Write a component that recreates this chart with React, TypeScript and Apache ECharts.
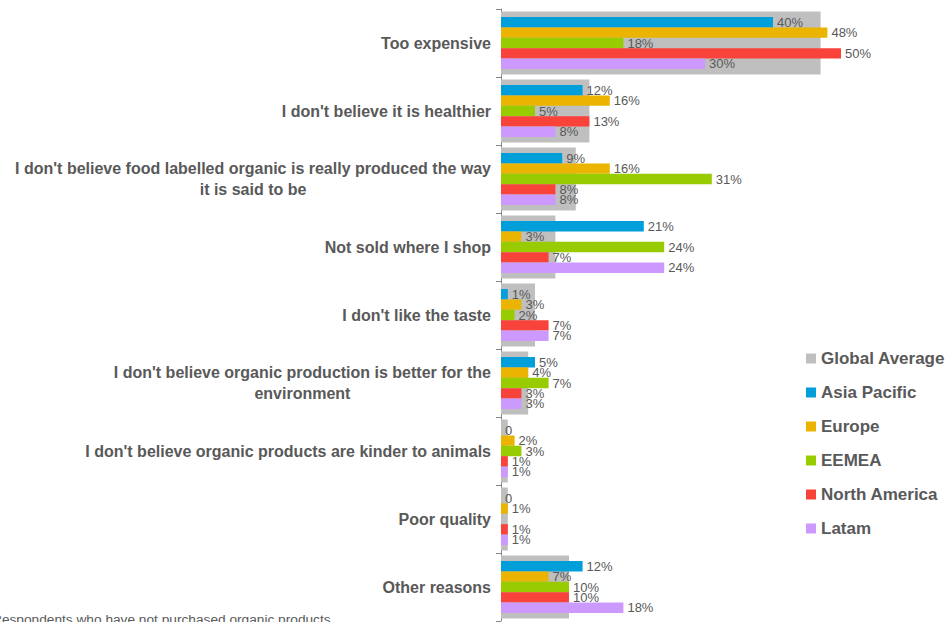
import React, { useEffect, useRef } from "react";
import * as echarts from "echarts";

const categories = [
  "Too expensive",
  "I don't believe it is healthier",
  "I don't believe food labelled organic is really produced the way\nit is said to be",
  "Not sold where I shop",
  "I don't like the taste",
  "I don't believe organic production is better for the\nenvironment",
  "I don't believe organic products are kinder to animals",
  "Poor quality",
  "Other reasons",
];
const globalAverage = [47, 13, 11, 8, 5, 4, 1, 1, 10];
const asiaPacific = [40, 12, 9, 21, 1, 5, 0, 0, 12];
const europe = [48, 16, 16, 3, 3, 4, 2, 1, 7];
const eemea = [18, 5, 31, 24, 2, 7, 3, null, 10];
const northAmerica = [50, 13, 8, 7, 7, 3, 1, 1, 10];
const latam = [30, 8, 8, 24, 7, 3, 1, 1, 18];

const footnote = "Respondents who have not purchased organic products";

const TEXT = "#595959";
const FONT = "'Liberation Sans', Arial, sans-serif";

export default function App() {
  const ref = useRef<HTMLDivElement>(null);
  useEffect(() => {
    if (!ref.current) return;
    const chart = echarts.init(ref.current, undefined, { renderer: "svg" });
    const regional = [
      { name: "Asia Pacific", data: asiaPacific, color: "#009FDA" },
      { name: "Europe", data: europe, color: "#EBB400" },
      { name: "EEMEA", data: eemea, color: "#99CC00" },
      { name: "North America", data: northAmerica, color: "#F9423A" },
      { name: "Latam", data: latam, color: "#CC99FF" },
    ];
    chart.setOption({
      animation: false,
      textStyle: { fontFamily: FONT },
      grid: { left: 501, top: 9, height: 612, right: 6, containLabel: false },
      xAxis: {
        type: "value",
        min: 0,
        max: 65,
        show: false,
      },
      yAxis: [
        {
          type: "category",
          data: categories,
          inverse: true,
          axisLine: { show: true, lineStyle: { color: "#868686", width: 1 } },
          axisTick: { show: true, length: 5, lineStyle: { color: "#868686" } },
          axisLabel: {
            margin: 10,
            formatter: (v: string) =>
              v
                .split("\n")
                .map((l) => `{c|${l}}`)
                .join("\n"),
            rich: {
              c: {
                align: "center",
                fontSize: 16,
                fontWeight: "bold",
                color: TEXT,
                fontFamily: FONT,
                lineHeight: 21,
              },
            },
          },
        },
        {
          type: "category",
          data: categories,
          inverse: true,
          show: false,
        },
      ],
      legend: {
        orient: "vertical",
        left: 806,
        top: 350,
        padding: 0,
        itemWidth: 10,
        itemHeight: 10,
        itemGap: 17,
        icon: "rect",
        textStyle: {
          color: TEXT,
          fontSize: 17,
          fontWeight: "bold",
          fontFamily: FONT,
        },
        data: [
          "Global Average",
          "Asia Pacific",
          "Europe",
          "EEMEA",
          "North America",
          "Latam",
        ],
      },
      series: [
        {
          name: "Global Average",
          type: "bar",
          yAxisIndex: 0,
          data: globalAverage,
          barWidth: 63,
          itemStyle: { color: "#BFBFBF" },
        },
        ...regional.map((r) => ({
          name: r.name,
          type: "bar",
          yAxisIndex: 1,
          data: r.data,
          barWidth: 10.4,
          barGap: "0%",
          itemStyle: { color: r.color },
          label: {
            show: true,
            position: "right",
            distance: 4,
            color: TEXT,
            fontSize: 13,
            fontFamily: FONT,
            formatter: (p: any) =>
              p.value === null || p.value === undefined
                ? ""
                : p.value === 0
                ? "0"
                : `${p.value}%`,
          },
        })),
      ],
      graphic: [
        {
          type: "text",
          left: -8,
          top: 612,
          style: {
            text: footnote,
            fill: TEXT,
            font: `13.7px ${FONT}`,
          },
        },
      ],
    });
    return () => chart.dispose();
  }, []);
  return (
    <div
      ref={ref}
      style={{ position: "absolute", left: 0, top: 0, width: 949, height: 622 }}
    />
  );
}
